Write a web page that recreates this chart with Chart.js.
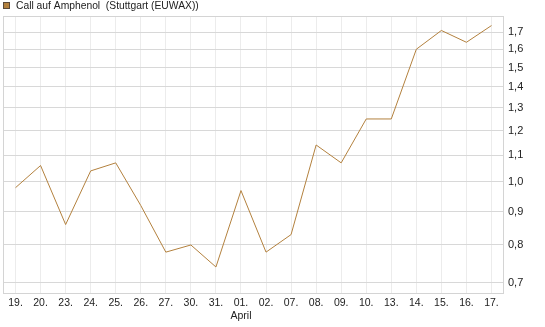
<!DOCTYPE html>
<html>
<head>
<meta charset="utf-8">
<script src="https://cdn.jsdelivr.net/npm/chart.js@4/dist/chart.umd.min.js"></script>
<style>
  html, body { margin: 0; padding: 0; background: #fff; }
  #wrap { width: 545px; height: 327px; position: relative; }
</style>
</head>
<body>
<div id="wrap"><canvas id="chart"></canvas></div>
<script>
// Daten
const seriesName = 'Call auf Amphenol  (Stuttgart (EUWAX))';
const dayLabels = ['19.', '20.', '23.', '24.', '25.', '26.', '27.', '30.', '31.', '01.',
                   '02.', '07.', '08.', '09.', '10.', '13.', '14.', '15.', '16.', '17.'];
const monthLabels = ['', '', '', '', '', '', '', '', '', 'April',
                     '', '', '', '', '', '', '', '', '', ''];
const prices = [0.98, 1.06, 0.86, 1.04, 1.07, 0.92, 0.78, 0.80, 0.74, 0.97,
                0.78, 0.83, 1.14, 1.07, 1.25, 1.25, 1.60, 1.71, 1.64, 1.74];
const yTicks = [0.7, 0.8, 0.9, 1.0, 1.1, 1.2, 1.3, 1.4, 1.5, 1.6, 1.7];

const lineColor = '#b3813e';
const fontFam = '"Liberation Sans", Arial, sans-serif';

// Rahmen und Legende
const framePlugin = {
    id: 'frame',
    afterDraw(chart) {
        const { ctx, chartArea: a } = chart;
        ctx.save();
        ctx.strokeStyle = '#d4d4d4';
        ctx.lineWidth = 1;
        ctx.strokeRect(Math.floor(a.left) + 0.5, Math.floor(a.top) + 0.5,
                       Math.round(a.right - a.left) - 1, Math.round(a.bottom - a.top) - 1);

        ctx.fillStyle = lineColor;
        ctx.fillRect(3, 2, 7, 7);
        ctx.strokeStyle = '#5a4a3a';
        ctx.strokeRect(3.5, 2.5, 6, 6);
        ctx.fillStyle = '#222';
        ctx.font = '10.3px ' + fontFam;
        ctx.textBaseline = 'alphabetic';
        ctx.fillText(seriesName, 16, 9);
        ctx.restore();
    }
};

const labels = dayLabels.map((d, i) => monthLabels[i] ? [d, monthLabels[i]] : d);

new Chart(document.getElementById('chart'), {
    type: 'line',
    data: {
        labels: labels,
        datasets: [{
            label: seriesName,
            data: prices,
            borderColor: lineColor,
            borderWidth: 1,
            pointRadius: 0,
            tension: 0,
            fill: false
        }]
    },
    options: {
        responsive: true,
        maintainAspectRatio: false,
        animation: false,
        layout: { padding: { left: 3, top: 16, right: 0, bottom: 0 } },
        plugins: { legend: { display: false }, tooltip: { enabled: false } },
        scales: {
            x: {
                offset: true,
                grid: { color: '#ececec', drawTicks: false },
                border: { display: false },
                ticks: {
                    autoSkip: false, maxRotation: 0, padding: 3,
                    color: '#222', font: { family: fontFam, size: 10.5 }
                },
                afterFit: s => { s.height = 33; }
            },
            y: {
                type: 'logarithmic',
                position: 'right',
                min: 0.6725,
                max: 1.80,
                grid: { color: '#d8d8d8', drawTicks: false },
                border: { display: false },
                afterBuildTicks: s => { s.ticks = yTicks.map(v => ({ value: v })); },
                ticks: {
                    padding: 4,
                    color: '#222',
                    font: { family: fontFam, size: 11 },
                    callback: v => v.toFixed(1).replace('.', ',')
                },
                afterFit: s => { s.width = 41; }
            }
        }
    },
    plugins: [framePlugin]
});
</script>
</body>
</html>
